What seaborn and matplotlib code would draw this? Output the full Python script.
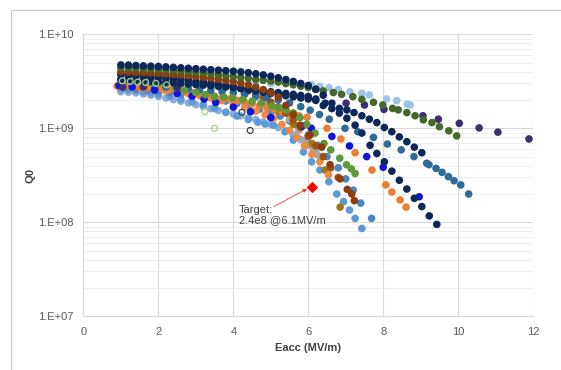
import matplotlib
matplotlib.use("Agg")
import matplotlib.pyplot as plt
from matplotlib.patches import Rectangle
from matplotlib.ticker import FixedLocator, NullFormatter
import numpy as np
import pandas as pd
import seaborn as sns

# ---------------- data (Q0 in units of 1e9) ----------------
navy_a_e = [1.0,1.2,1.4,1.6,1.8,2.0,2.2,2.4,2.6,2.8,3.0,3.2,3.4,3.6,3.8,4.0,4.2,4.4,4.6,4.8,5.0,5.2,5.4,5.6,5.8,6.0,6.2,6.4,
            6.63,6.83,7.03,7.22,7.43,7.63,7.83,8.03,8.23,8.43,8.63,8.83,9.03]
navy_a_q = [4.72,4.70,4.66,4.62,4.58,4.55,4.50,4.45,4.40,4.35,4.30,4.25,4.20,4.15,4.10,4.05,3.98,3.90,3.80,3.70,
            3.58,3.45,3.30,3.15,3.00,2.85,2.60,2.25,1.85,1.63,1.57,1.47,1.36,1.25,1.15,1.02,0.92,0.81,0.72,0.63,0.55]

navy_b_e = [1.0,1.2,1.4,1.6,1.8,2.0,2.2,2.4,2.6,2.8,3.0,3.2,3.4,3.6,3.8,4.0,4.2,4.4,4.6,4.8,5.0,5.2,5.4,5.6,5.8,6.0,6.2,
            6.45,6.63,6.83,7.03,7.25,7.43,7.65,7.83,8.03,8.23,8.43,8.63,8.83,9.03,9.23,9.43]
navy_b_q = [3.69,3.65,3.60,3.55,3.50,3.45,3.40,3.35,3.28,3.20,3.12,3.05,2.98,2.90,2.82,2.74,2.66,2.58,2.50,2.42,
            2.35,2.28,2.22,2.16,2.10,2.05,1.98,1.85,1.62,1.45,1.28,1.08,0.89,0.66,0.54,0.44,0.35,0.28,0.226,0.18,
            0.147,0.117,0.095]

navy_c_e = [1.0,1.2,1.4,1.6,1.8,2.0,2.2,2.4,2.6,2.8,3.0,3.2,3.4,3.6,3.8,4.0,4.2,4.4,4.6,4.8,5.0,5.2,5.4,5.6,5.8,6.0,6.2,6.4]
navy_c_q = [3.30,3.27,3.24,3.20,3.16,3.12,3.08,3.04,3.00,2.96,2.92,2.88,2.84,2.80,2.75,2.70,2.65,2.60,2.55,2.50,
            2.45,2.40,2.35,2.30,2.24,2.18,2.05,1.75]

green_a_e = [1.0,1.2,1.4,1.6,1.8,2.0,2.2,2.4,2.6,2.8,3.0,3.2,3.4,3.6,3.8,4.0,4.2,4.4,4.6,4.8,5.0,5.2,5.4,5.6,5.8,6.0,6.2,6.4,
             6.67,6.89,7.19,7.43,7.74,7.99,8.25,8.40,8.63,8.85,9.07,9.30,9.50,9.75,9.96]
green_a_q = [4.40,4.38,4.35,4.30,4.26,4.22,4.17,4.12,4.06,4.00,3.94,3.88,3.80,3.72,3.64,3.56,3.48,3.40,3.32,3.24,
             3.18,3.10,3.00,2.90,2.80,2.72,2.60,2.50,2.40,2.30,2.17,2.03,1.89,1.77,1.63,1.57,1.47,1.36,1.23,1.15,
             1.04,0.94,0.83]

brown_a_e = [1.0,1.2,1.4,1.6,1.8,2.0,2.2,2.4,2.6,2.8,3.0,3.2,3.4,3.6,3.8,4.0,4.2,4.4,4.6,4.8,5.0,5.2,5.4,5.6,
             5.78,6.05,6.36,6.58,6.85,7.04,7.16,7.23]
brown_a_q = [4.00,3.98,3.95,3.92,3.88,3.84,3.80,3.75,3.70,3.64,3.58,3.50,3.42,3.33,3.24,3.14,3.02,2.90,2.75,2.58,
             2.38,2.15,1.75,1.40,1.08,0.85,0.63,0.41,0.29,0.224,0.20,0.17]

brown_b_e = [1.0,1.2,1.4,1.6,1.8,2.0,2.2,2.4,2.6,2.8,3.0,3.2,3.4,3.6,3.8,4.0,4.2,4.4,4.6,4.8,5.0,5.2,5.4,5.6,5.8,6.0,6.2,6.4,6.6,6.8]
brown_b_q = [3.85,3.82,3.78,3.74,3.70,3.65,3.60,3.54,3.48,3.40,3.32,3.22,3.12,3.01,2.90,2.78,2.65,2.50,2.32,2.12,
             1.90,1.68,1.45,1.22,1.02,0.82,0.65,0.50,0.38,0.30]

orange_a_e = [0.9,1.1,1.3,1.5,1.7,1.9,2.1,2.3,2.5,2.7,2.9,3.1,3.3,3.5,3.7,3.9,4.1,4.3,4.5,4.7,4.9,5.1,5.3,5.5,
              5.75,5.97,6.5,6.87,7.25,7.7,8.07,8.23,8.45,8.61]
orange_a_q = [2.82,2.80,2.77,2.74,2.70,2.66,2.62,2.57,2.52,2.46,2.40,2.34,2.28,2.20,2.12,2.05,1.98,1.90,1.82,1.74,
              1.66,1.58,1.50,1.42,1.36,1.31,1.00,0.77,0.55,0.36,0.25,0.21,0.173,0.145]

orange_b_e = [1.0,1.3,1.6,1.9,2.2,2.5,2.8,3.1,3.4,3.7,4.0,4.3,4.6,4.85,5.07,5.3,5.5,5.7,5.9,6.1,6.31,6.54]
orange_b_q = [2.78,2.72,2.66,2.58,2.50,2.42,2.33,2.22,2.10,1.97,1.83,1.68,1.52,1.40,1.28,1.10,0.95,0.80,0.65,0.53,0.44,0.32]

mblue_a_e = [1.0,1.2,1.4,1.6,1.8,2.0,2.3,2.6,2.9,3.2,3.5,3.8,4.1,4.4,4.65,4.85,5.07,5.38,5.6,5.87,6.09,6.31,6.55,6.76,
             6.94,7.1,7.25,7.43]
mblue_a_q = [2.62,2.58,2.52,2.45,2.38,2.30,2.18,2.05,1.92,1.78,1.62,1.48,1.35,1.24,1.16,1.11,1.08,0.92,0.75,0.56,
             0.44,0.36,0.27,0.20,0.166,0.135,0.11,0.086]

mblue_b_e = [1.1,1.4,1.7,2.0,2.3,2.6,2.9,3.2,3.5,3.8,4.1,4.4,4.7,5.0,5.25,5.5,5.75,6.0,6.25,6.5,6.8,7.0,7.2,7.4,7.69]
mblue_b_q = [2.70,2.62,2.55,2.48,2.40,2.32,2.24,2.15,2.05,1.95,1.84,1.72,1.60,1.48,1.35,1.20,1.02,0.85,0.66,0.50,
             0.38,0.29,0.22,0.16,0.11]

peri_e = [1.0,1.2,1.4,1.6,1.8,2.0,2.2,2.4,2.6,2.8,3.0,3.2,3.4,3.6,3.8,4.0,4.2,4.4,4.6,4.8,5.0,5.2,5.4,5.6,5.8,6.0,6.2]
peri_q = [2.45,2.42,2.38,2.32,2.25,2.18,2.10,2.02,1.94,1.86,1.78,1.70,1.62,1.55,1.48,1.42,1.36,1.30,1.24,1.17,
          1.10,1.02,0.94,0.85,0.76,0.66,0.56]

teal_e = [1.0,1.3,1.6,1.9,2.2,2.5,2.8,3.1,3.4,3.7,4.0,4.3,4.6,4.9,5.2,5.5,5.8,6.05,6.3,6.56,6.98,7.32,7.74,8.11,8.48,
          8.82,9.16,9.22,9.41,9.57,9.74,9.89,10.07,10.28]
teal_q = [2.95,2.90,2.85,2.80,2.75,2.70,2.64,2.58,2.52,2.45,2.38,2.30,2.22,2.12,2.00,1.86,1.70,1.56,1.40,1.25,
          1.00,0.92,0.80,0.68,0.59,0.50,0.425,0.41,0.375,0.34,0.306,0.277,0.25,0.20]

gray_e = [1.0,1.3,1.6,1.9,2.2,2.5,2.8,3.1,3.4,3.7,4.0,4.3,4.6,4.9,5.2,5.5,5.75,5.96,6.05,6.14,6.25]
gray_q = [3.30,3.25,3.20,3.12,3.05,2.98,2.90,2.80,2.70,2.58,2.45,2.30,2.12,1.90,1.60,1.25,0.95,0.75,0.68,0.60,0.52]

green_b_e = [1.0,1.2,1.4,1.6,1.8,2.0,2.2,2.45,2.7,3.0,3.25,3.5,3.75,3.98,4.25,4.5,4.75,5.03,5.22,5.41,5.6,5.78,5.96,
             6.18,6.42,6.6,6.84,7.02,7.15,7.25]
green_b_q = [3.25,3.22,3.18,3.14,3.08,3.02,2.95,2.70,2.55,2.40,2.28,2.17,2.14,2.10,2.02,1.94,1.85,1.73,1.65,1.57,
             1.46,1.30,1.10,0.89,0.69,0.59,0.48,0.41,0.37,0.33]

bblue_e = [0.95,1.3,1.9,2.5,2.9,3.22,3.53,4.0,4.46,5.0,5.84,6.08,6.63,7.1,7.56,8.0,8.96]
bblue_q = [2.85,2.75,2.55,2.35,2.20,2.05,1.88,1.68,1.50,1.30,1.06,1.00,0.82,0.65,0.50,0.385,0.187]

olive_e = [5.2,5.6,6.1,6.45,6.85]
olive_q = [1.5,1.1,0.69,0.36,0.145]

purple_e = [1.05,1.6,2.5,7.01,7.5,8.02,9.06,9.47,10.03,10.56,11.06,11.89]
purple_q = [2.75,2.75,2.70,1.85,1.77,1.59,1.36,1.25,1.13,1.01,0.91,0.77]

lblue_e = [1.0,1.4,1.8,2.2,2.6,3.0,3.4,3.8,4.2,4.6,5.0,5.4,5.8,6.09,6.31,6.55,6.80,7.11,7.43,7.63,8.09,8.36,8.64,8.72]
lblue_q = [3.50,3.45,3.40,3.35,3.30,3.25,3.20,3.15,3.10,3.05,3.00,2.97,2.93,2.90,2.80,2.70,2.60,2.45,2.36,2.26,
           2.05,1.97,1.81,1.77]

open_lgreen_e = [1.04,1.25,1.45,1.66,1.93,2.22,3.24,3.5]
open_lgreen_q = [3.2,3.15,3.1,3.07,3.0,2.9,1.5,1.0]
open_dgray_e = [4.23,4.45]
open_dgray_q = [1.48,0.95]

target_e = [6.1]
target_q = [0.24]

x_ticks = [0, 2, 4, 6, 8, 10, 12]
y_ticks = [1e7, 1e8, 1e9, 1e10]
y_tick_labels = ["1.E+07", "1.E+08", "1.E+09", "1.E+10"]

# ---------------- series table ----------------
series = [
    ("peri", peri_e, peri_q, "#8EA9DB"),
    ("mblue_a", mblue_a_e, mblue_a_q, "#5B9BD5"),
    ("mblue_b", mblue_b_e, mblue_b_q, "#4A86C6"),
    ("gray", gray_e, gray_q, "#A5A5A5"),
    ("olive", olive_e, olive_q, "#9C7A10"),
    ("orange_b", orange_b_e, orange_b_q, "#EF8A3E"),
    ("orange_a", orange_a_e, orange_a_q, "#ED7D31"),
    ("brown_b", brown_b_e, brown_b_q, "#A0501A"),
    ("teal", teal_e, teal_q, "#2F6B9A"),
    ("bblue", bblue_e, bblue_q, "#1414D6"),
    ("green_b", green_b_e, green_b_q, "#5E9A3A"),
    ("lblue", lblue_e, lblue_q, "#9DC3E6"),
    ("purple", purple_e, purple_q, "#3F2E6E"),
    ("navy_c", navy_c_e, navy_c_q, "#0C2859"),
    ("navy_b", navy_b_e, navy_b_q, "#0C2859"),
    ("brown_a", brown_a_e, brown_a_q, "#8B3D10"),
    ("green_a", green_a_e, green_a_q, "#46682A"),
    ("navy_a", navy_a_e, navy_a_q, "#0C2859"),
]
rows = []
for name, es, qs, _c in series:
    for e, q in zip(es, qs):
        rows.append({"series": name, "E": e, "Q": q * 1e9})
df = pd.DataFrame(rows)
palette = {name: c for name, _e, _q, c in series}

# ---------------- plot ----------------
sns.set_style("white")
plt.rcParams["font.family"] = ["Liberation Sans", "DejaVu Sans"]

fig = plt.figure(figsize=(5.61, 3.70), dpi=100)
fig.patch.set_facecolor("white")
ax = fig.add_axes([0.1487, 0.1451, 0.8016, 0.7622])

ax.set_yscale("log")
ax.set_xlim(0, 12)
ax.set_ylim(1e7, 1e10)

# gridlines
ax.set_axisbelow(True)
ax.yaxis.set_minor_locator(FixedLocator([m * 10.0 ** d for d in range(7, 10) for m in range(2, 10)]))
ax.yaxis.set_minor_formatter(NullFormatter())
ax.grid(True, which="major", color="#D9D9D9", linewidth=0.8)
ax.grid(True, which="minor", axis="y", color="#EBEBEB", linewidth=0.6)

sns.scatterplot(data=df, x="E", y="Q", hue="series", palette=palette,
                hue_order=[s[0] for s in series], s=30, linewidth=0,
                legend=False, ax=ax, zorder=3)

sns.scatterplot(x=open_lgreen_e, y=[q * 1e9 for q in open_lgreen_q], ax=ax, s=18,
                facecolor="none", edgecolor="#A9D18E", linewidth=0.9, zorder=4)
sns.scatterplot(x=open_dgray_e, y=[q * 1e9 for q in open_dgray_q], ax=ax, s=18,
                facecolor="none", edgecolor="#404040", linewidth=0.9, zorder=4)

sns.scatterplot(x=target_e, y=[q * 1e9 for q in target_q], ax=ax, marker="D", s=34,
                color="#FF0000", linewidth=0, zorder=5)

ax.annotate("", xy=(5.97, 2.27e8), xytext=(5.08, 1.47e8),
            arrowprops=dict(arrowstyle="-|>", color="#E8413A", lw=0.6,
                            mutation_scale=6, shrinkA=0, shrinkB=0), zorder=5)
ax.text(4.15, 1.2e8, "Target:\n2.4e8 @6.1MV/m", fontsize=8, color="#404040",
        ha="left", va="center", linespacing=1.05, zorder=6)

ax.set_xticks(x_ticks)
ax.set_xticklabels([str(t) for t in x_ticks])
ax.set_yticks(y_ticks)
ax.set_yticklabels(y_tick_labels)
ax.tick_params(axis="both", which="both", length=0, labelsize=8, labelcolor="#595959")
ax.tick_params(axis="x", pad=8)
ax.tick_params(axis="y", pad=7)

ax.set_xlabel("Eacc (MV/m)", fontsize=8, fontweight="bold", color="#404040", labelpad=4)
ax.set_ylabel("Q0", fontsize=8, fontweight="bold", color="#404040", labelpad=2)

for side in ["top", "right"]:
    ax.spines[side].set_visible(False)
for side in ["left", "bottom"]:
    ax.spines[side].set_color("#D9D9D9")
    ax.spines[side].set_linewidth(0.8)

# outer chart frame
fig.add_artist(Rectangle((10.5 / 561, -0.05), 1.2, 1 - 9.5 / 370 + 0.05,
                         transform=fig.transFigure, fill=False,
                         edgecolor="#C8C8C8", linewidth=0.8))

fig.savefig("out.png", dpi=100)
